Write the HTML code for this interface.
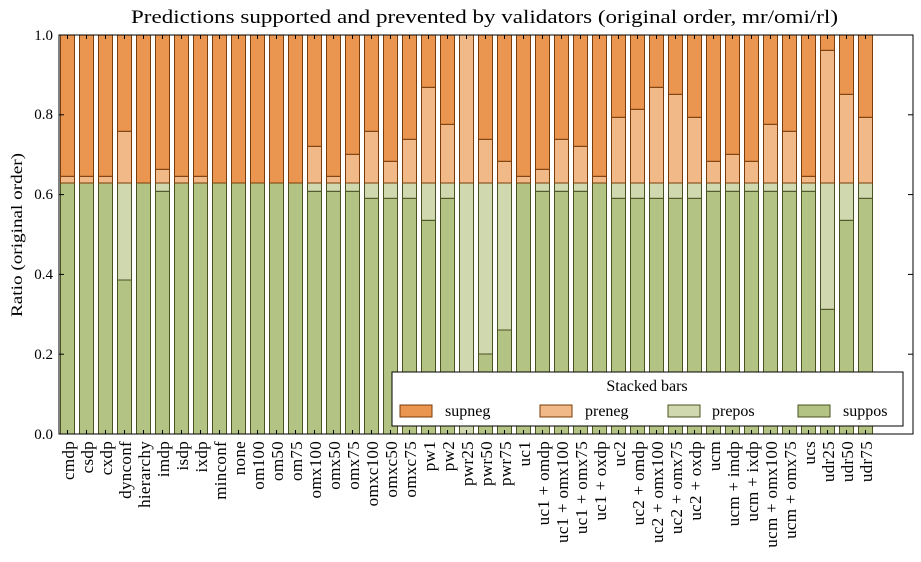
<!DOCTYPE html>
<html><head><meta charset="utf-8"><style>
html,body{margin:0;padding:0;background:#fff;}
svg{display:block;font-family:"Liberation Serif","DejaVu Serif",serif;}
</style></head><body>
<svg id="s" width="921" height="562" viewBox="0 0 921 562" xmlns="http://www.w3.org/2000/svg">
<rect width="921" height="562" fill="#fff"/>
<g id="bars"></g>
<rect x="59" y="35" width="854" height="399" fill="none" stroke="#000" stroke-width="1"/>
<g id="ticks" stroke="#000" stroke-width="1"></g>
<text x="131" y="23" font-size="19" textLength="707" lengthAdjust="spacingAndGlyphs">Predictions supported and prevented by validators (original order, mr/omi/rl)</text>
<text transform="translate(22,235) rotate(-90)" font-size="16" text-anchor="middle" textLength="164" lengthAdjust="spacingAndGlyphs">Ratio (original order)</text>
<g font-size="15" text-anchor="end">
<text x="53" y="439">0.0</text><text x="53" y="359">0.2</text><text x="53" y="279">0.4</text>
<text x="53" y="199">0.6</text><text x="53" y="119">0.8</text><text x="53" y="40">1.0</text>
</g>
<g id="xl" font-size="17" text-anchor="end" letter-spacing="0.3">
<text transform="translate(68,441) rotate(-90)" dy="0.35em">cmdp</text>
<text transform="translate(87,441) rotate(-90)" dy="0.35em">csdp</text>
<text transform="translate(106,441) rotate(-90)" dy="0.35em">cxdp</text>
<text transform="translate(125,441) rotate(-90)" dy="0.35em">dynconf</text>
<text transform="translate(144,441) rotate(-90)" dy="0.35em">hierarchy</text>
<text transform="translate(163,441) rotate(-90)" dy="0.35em">imdp</text>
<text transform="translate(182,441) rotate(-90)" dy="0.35em">isdp</text>
<text transform="translate(201,441) rotate(-90)" dy="0.35em">ixdp</text>
<text transform="translate(220,441) rotate(-90)" dy="0.35em">minconf</text>
<text transform="translate(239,441) rotate(-90)" dy="0.35em">none</text>
<text transform="translate(258,441) rotate(-90)" dy="0.35em">om100</text>
<text transform="translate(277,441) rotate(-90)" dy="0.35em">om50</text>
<text transform="translate(296,441) rotate(-90)" dy="0.35em">om75</text>
<text transform="translate(315,441) rotate(-90)" dy="0.35em">omx100</text>
<text transform="translate(334,441) rotate(-90)" dy="0.35em">omx50</text>
<text transform="translate(353,441) rotate(-90)" dy="0.35em">omx75</text>
<text transform="translate(372,441) rotate(-90)" dy="0.35em">omxc100</text>
<text transform="translate(391,441) rotate(-90)" dy="0.35em">omxc50</text>
<text transform="translate(410,441) rotate(-90)" dy="0.35em">omxc75</text>
<text transform="translate(429,441) rotate(-90)" dy="0.35em">pw1</text>
<text transform="translate(448,441) rotate(-90)" dy="0.35em">pw2</text>
<text transform="translate(467,441) rotate(-90)" dy="0.35em">pwr25</text>
<text transform="translate(486,441) rotate(-90)" dy="0.35em">pwr50</text>
<text transform="translate(505,441) rotate(-90)" dy="0.35em">pwr75</text>
<text transform="translate(524,441) rotate(-90)" dy="0.35em">uc1</text>
<text transform="translate(543,441) rotate(-90)" dy="0.35em">uc1 + omdp</text>
<text transform="translate(562,441) rotate(-90)" dy="0.35em">uc1 + omx100</text>
<text transform="translate(581,441) rotate(-90)" dy="0.35em">uc1 + omx75</text>
<text transform="translate(600,441) rotate(-90)" dy="0.35em">uc1 + oxdp</text>
<text transform="translate(619,441) rotate(-90)" dy="0.35em">uc2</text>
<text transform="translate(638,441) rotate(-90)" dy="0.35em">uc2 + omdp</text>
<text transform="translate(657,441) rotate(-90)" dy="0.35em">uc2 + omx100</text>
<text transform="translate(676,441) rotate(-90)" dy="0.35em">uc2 + omx75</text>
<text transform="translate(695,441) rotate(-90)" dy="0.35em">uc2 + oxdp</text>
<text transform="translate(714,441) rotate(-90)" dy="0.35em">ucm</text>
<text transform="translate(733,441) rotate(-90)" dy="0.35em">ucm + imdp</text>
<text transform="translate(752,441) rotate(-90)" dy="0.35em">ucm + ixdp</text>
<text transform="translate(771,441) rotate(-90)" dy="0.35em">ucm + omx100</text>
<text transform="translate(790,441) rotate(-90)" dy="0.35em">ucm + omx75</text>
<text transform="translate(809,441) rotate(-90)" dy="0.35em">ucs</text>
<text transform="translate(828,441) rotate(-90)" dy="0.35em">udr25</text>
<text transform="translate(847,441) rotate(-90)" dy="0.35em">udr50</text>
<text transform="translate(866,441) rotate(-90)" dy="0.35em">udr75</text>
</g>
<g>
<rect x="392" y="372" width="511" height="54" fill="#fff" stroke="#000" stroke-width="1"/>
<text x="647" y="391" font-size="16" text-anchor="middle">Stacked bars</text>
<rect x="400" y="405" width="32" height="12" fill="#eb9650" stroke="#7a3c08"/>
<text x="445" y="416" font-size="16">supneg</text>
<rect x="540" y="405" width="32" height="12" fill="#f1b888" stroke="#7a3c08"/>
<text x="585" y="416" font-size="16">preneg</text>
<rect x="668" y="405" width="32" height="12" fill="#d0d8b0" stroke="#4a5222"/>
<text x="712" y="416" font-size="16">prepos</text>
<rect x="798" y="405" width="32" height="12" fill="#b3c383" stroke="#4a5222"/>
<text x="843" y="416" font-size="16">suppos</text>
</g>
</svg>
<script>
var d=[[183,183,176.3],[183,183,176.3],[183,183,176.3],[280,183,131.3],[183,183,183],[191.3,183,169.3],[183,183,176.3],[183,183,176.3],[183,183,183],[183,183,183],[183,183,183],[183,183,183],[183,183,183],[191.3,183,146.3],[191.3,183,176.3],[191.3,183,154.3],[198.3,183,131.3],[198.3,183,161.3],[198.3,183,139.3],[220.3,183,87.3],[198.3,183,124.3],[434,183,35],[354,183,139.3],[330,183,161.3],[183,183,176.3],[191.3,183,169.3],[191.3,183,139.3],[191.3,183,146.3],[183,183,176.3],[198.3,183,117.3],[198.3,183,109.3],[198.3,183,87.3],[198.3,183,94.3],[198.3,183,117.3],[191.3,183,161.3],[191.3,183,154.3],[191.3,183,161.3],[191.3,183,124.3],[191.3,183,131.3],[191.3,183,176.3],[309.3,183,50.3],[220.3,183,94.3],[198.3,183,117.3]];
var ns="http://www.w3.org/2000/svg",g=document.getElementById("bars"),t=document.getElementById("ticks");
function r(x,y0,y1,f,s){if(y1-y0<0.5)return;var e=document.createElementNS(ns,"rect");e.setAttribute("x",x);e.setAttribute("y",y0);e.setAttribute("width",14);e.setAttribute("height",y1-y0);e.setAttribute("fill",f);e.setAttribute("stroke",s);e.setAttribute("stroke-width","1");g.appendChild(e);}
function l(x1,y1,x2,y2){var e=document.createElementNS(ns,"line");e.setAttribute("x1",x1);e.setAttribute("y1",y1);e.setAttribute("x2",x2);e.setAttribute("y2",y2);t.appendChild(e);}
d.forEach(function(v,i){var x=60.5+i*19;
r(x,v[0],434,"#b3c383","#4a5222");r(x,v[1],v[0],"#d0d8b0","#4a5222");r(x,v[2],v[1],"#f1b888","#7a3c08");r(x,35,v[2],"#eb9650","#7a3c08");
var c=x+7;l(c,35,c,39);l(c,434,c,430);});
for(var k=0;k<=5;k++){var y=434-k*79.8;l(59,y,64,y);l(913,y,908,y);}
</script>
</body></html>
